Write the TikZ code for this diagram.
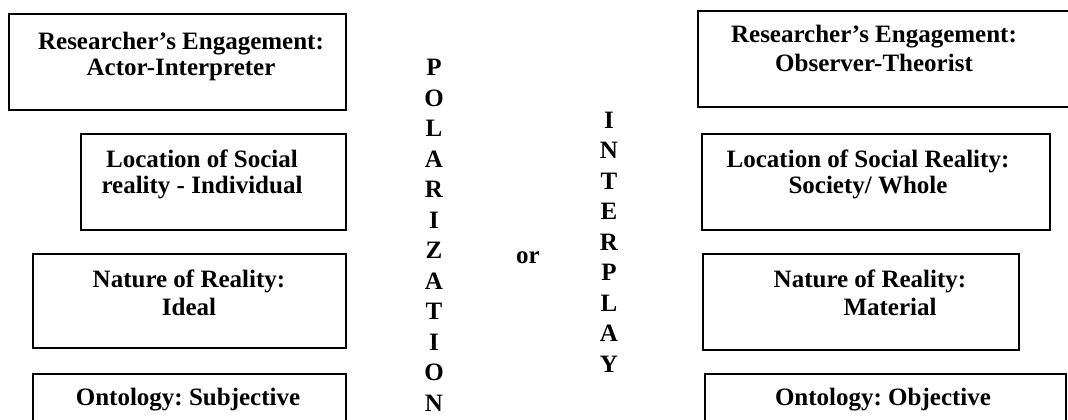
\documentclass[tikz,border=0pt]{standalone}
\usepackage{fontspec}
\setmainfont{Liberation Serif}
\usetikzlibrary{positioning}
\frenchspacing

\begin{document}
\begin{tikzpicture}[
  x=1pt, y=-1pt,
  font=\bfseries\fontsize{25}{26}\selectfont,
  box/.style={rectangle, draw=black, line width=1.6pt, inner sep=0pt, anchor=north west},
  txt/.style={align=center, inner sep=0pt, anchor=base},
  col/.style={align=center, inner sep=0pt, anchor=base,
              font=\bfseries\fontsize{25}{30.5}\selectfont}]

  \useasboundingbox (0,0) rectangle (1068,420);
  \clip (0,0) rectangle (1068,420);

  % ---------- left column ----------
  \node[box, minimum width=337, minimum height=96] (engA) at (8,13) {};
  \node[txt] (engAt) at (181,76) {Researcher’s Engagement:\\Actor-Interpreter};

  \node[box, minimum width=265, minimum height=96] (locA) at (80,133) {};
  \node[txt] (locAt) at (202,193) {Location of Social\\reality - Individual};

  \node[box, minimum width=313, minimum height=94] (natA) at (32,253) {};
  \node[txt] (natAt) at (189,315) {Nature of Reality:\\[2pt]Ideal};

  \node[box, minimum width=313, minimum height=80] (ontA) at (32,373) {};
  \node[txt] (ontAt) at (188,405) {Ontology: Subjective};

  % ---------- middle ----------
  \node[col] (polar) at (434,411) {P\\O\\L\\A\\R\\I\\Z\\A\\T\\I\\O\\N};
  \node[txt] (or) at (528,263) {or};
  \node[col] (inter) at (609,372) {I\\N\\T\\E\\R\\P\\L\\A\\Y};

  % ---------- right column ----------
  \node[box, minimum width=400, minimum height=96] (engB) at (697,10) {};
  \node[txt] (engBt) at (874,72) {Researcher’s Engagement:\\[3pt]Observer-Theorist};

  \node[box, minimum width=348, minimum height=96] (locB) at (701,133) {};
  \node[txt] (locBt) at (868,193) {Location of Social Reality:\\Society/ Whole};

  \node[box, minimum width=316, minimum height=96] (natB) at (702,253) {};
  \node[txt] (natBt) at (870,315) {Nature of Reality:\\[2pt]\hspace*{40pt}Material};

  \node[box, minimum width=361, minimum height=80] (ontB) at (704,373) {};
  \node[txt] (ontBt) at (883,405) {Ontology: Objective};

\end{tikzpicture}
\end{document}
